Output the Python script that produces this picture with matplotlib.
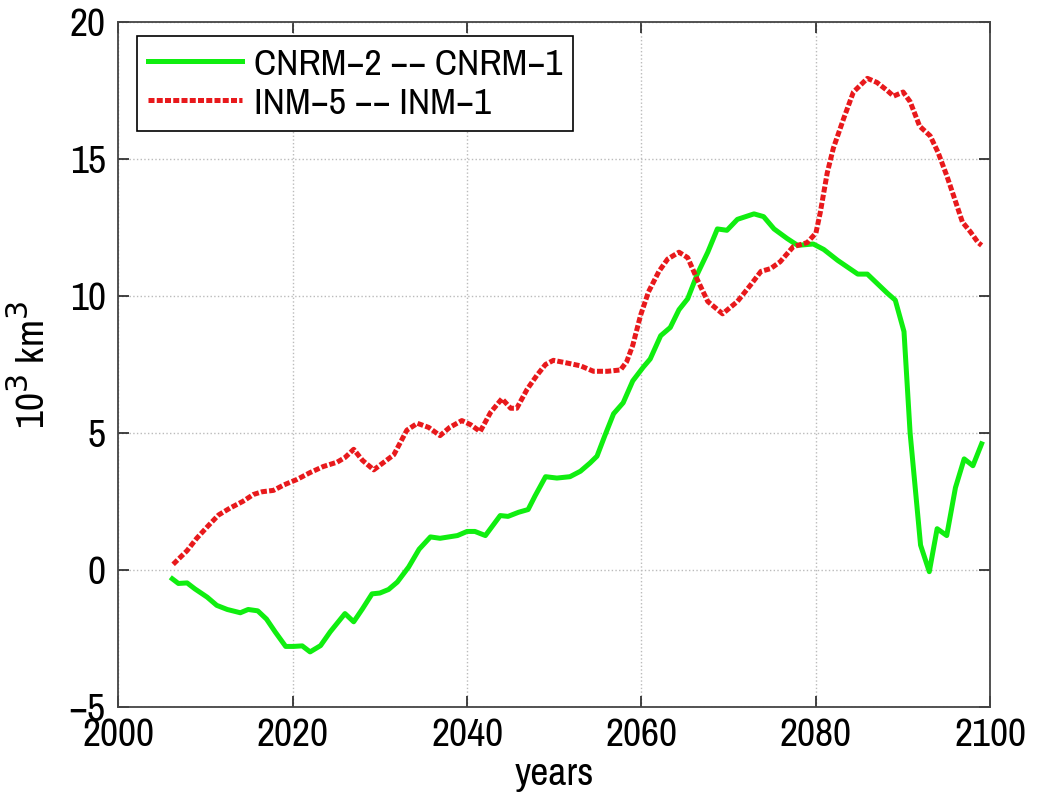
import matplotlib
matplotlib.use("Agg")
import matplotlib.pyplot as plt
from matplotlib import font_manager

# ---- data (10^3 km^3) ----
cnrm_years = [2006.2, 2006.9, 2007.9, 2008.8, 2010.2, 2011.3, 2012.5, 2014.0, 2014.9, 2016.0,
              2017.0, 2018.0, 2019.2, 2020.1, 2021.1, 2022.0, 2023.2, 2024.3, 2026.0, 2027.0,
              2028.0, 2029.1, 2030.0, 2031.0, 2032.0, 2033.3, 2034.5, 2035.8, 2036.9, 2038.9,
              2040.0, 2040.9, 2042.1, 2043.8, 2044.7, 2045.9, 2047.0, 2047.8, 2049.0, 2050.3,
              2051.8, 2053.0, 2054.1, 2054.9, 2055.8, 2056.8, 2057.9, 2059.0, 2060.2, 2061.0,
              2062.2, 2063.3, 2064.3, 2065.3, 2066.4, 2067.6, 2068.7, 2069.8, 2071.0, 2072.9,
              2074.0, 2075.2, 2076.7, 2077.9, 2079.7, 2080.9, 2082.5, 2084.8, 2085.9, 2088.2,
              2089.1, 2090.1, 2090.8, 2092.0, 2093.0, 2093.9, 2095.0, 2096.0, 2097.0, 2098.0,
              2099.0]
cnrm_vals = [-0.33, -0.50, -0.48, -0.70, -1.00, -1.30, -1.45, -1.57, -1.45, -1.50,
             -1.80, -2.27, -2.80, -2.80, -2.78, -3.00, -2.77, -2.27, -1.60, -1.90,
             -1.43, -0.88, -0.85, -0.72, -0.45, 0.10, 0.75, 1.20, 1.15, 1.25,
             1.40, 1.40, 1.25, 1.98, 1.95, 2.10, 2.20, 2.70, 3.40, 3.35,
             3.40, 3.60, 3.90, 4.15, 4.90, 5.70, 6.10, 6.90, 7.40, 7.70,
             8.55, 8.85, 9.50, 9.90, 10.80, 11.60, 12.45, 12.40, 12.80, 13.00,
             12.90, 12.45, 12.10, 11.85, 11.90, 11.70, 11.30, 10.80, 10.80, 10.10,
             9.85, 8.70, 5.00, 0.90, -0.07, 1.50, 1.25, 3.00, 4.05, 3.80,
             4.60]

inm_years = [2006.3, 2007.9, 2009.0, 2010.3, 2011.5, 2012.8, 2014.3, 2015.5, 2016.5, 2017.8,
             2019.0, 2020.5, 2022.0, 2023.5, 2025.1, 2026.0, 2027.0, 2028.0, 2029.3, 2031.6,
             2033.1, 2034.3, 2035.6, 2036.9, 2038.0, 2039.4, 2040.4, 2041.5, 2042.7, 2044.0,
             2045.0, 2045.7, 2046.9, 2048.0, 2049.0, 2049.9, 2051.5, 2053.0, 2054.5, 2056.1,
             2057.6, 2058.3, 2059.0, 2059.9, 2060.8, 2062.0, 2063.0, 2064.3, 2065.3, 2066.4,
             2067.6, 2069.3, 2071.0, 2072.5, 2073.7, 2074.8, 2075.9, 2077.4, 2079.0, 2080.0,
             2080.5, 2081.3, 2082.0, 2083.2, 2084.3, 2085.9, 2087.0, 2088.2, 2088.9, 2090.0,
             2090.8, 2091.9, 2093.1, 2094.0, 2095.0, 2095.8, 2096.8, 2097.7, 2098.6, 2099.0]
inm_vals = [0.20, 0.70, 1.15, 1.60, 2.00, 2.25, 2.50, 2.75, 2.85, 2.90,
            3.10, 3.30, 3.55, 3.77, 3.93, 4.10, 4.40, 4.00, 3.65, 4.20,
            5.10, 5.35, 5.20, 4.90, 5.20, 5.45, 5.30, 5.05, 5.75, 6.25,
            5.90, 5.90, 6.60, 7.10, 7.50, 7.65, 7.55, 7.45, 7.25, 7.25,
            7.30, 7.60, 8.20, 9.30, 10.15, 10.90, 11.35, 11.60, 11.40, 10.60,
            9.80, 9.35, 9.80, 10.40, 10.90, 11.00, 11.25, 11.80, 11.95, 12.30,
            13.05, 14.50, 15.40, 16.50, 17.45, 17.95, 17.80, 17.50, 17.30, 17.45,
            17.10, 16.20, 15.85, 15.25, 14.40, 13.65, 12.70, 12.35, 11.95, 11.85]

labels = ["CNRM\u22122 \u2212\u2212 CNRM\u22121", "INM\u22125 \u2212\u2212 INM\u22121"]
x_ticks = [2000, 2020, 2040, 2060, 2080, 2100]
y_ticks = [-5, 0, 5, 10, 15, 20]

# ---- font: prefer a narrow sans face ----
narrow = None
for f in font_manager.fontManager.ttflist:
    nm = f.name.lower()
    fn = f.fname.lower()
    if ("narrow" in nm or "condensed" in nm or "condensed" in fn or f.stretch in ("condensed", 600)) \
            and "bold" not in fn and "oblique" not in fn and "italic" not in fn:
        if narrow is None or "dejavusanscondensed.ttf" in fn or "narrow-regular" in fn:
            narrow = f.fname
if narrow:
    fp = font_manager.FontProperties(fname=narrow)
else:
    fp = font_manager.FontProperties(family="DejaVu Sans")


def fprop(size):
    p = fp.copy()
    p.set_size(size)
    return p


fig = plt.figure(figsize=(10.37, 7.94), dpi=100)
ax = fig.add_axes([0.114, 0.110, 0.841, 0.862])

ax.plot(cnrm_years, cnrm_vals, color="#10EE10", lw=3.6, solid_joinstyle="round",
        label=labels[0])
ax.plot(inm_years, inm_vals, color="#E8191C", lw=3.6, linestyle=(0, (1.2, 0.45)),
        dash_capstyle="butt", label=labels[1])

ax.set_xlim(2000, 2100)
ax.set_ylim(-5, 20)
ax.set_xticks(x_ticks)
ax.set_yticks(y_ticks)
ax.set_xticklabels([str(v) for v in x_ticks], fontproperties=fprop(31))
ax.set_yticklabels([str(v).replace("-", "\u2212") for v in y_ticks], fontproperties=fprop(31))
ax.tick_params(axis="x", pad=8)
ax.tick_params(axis="y", pad=9)
ax.tick_params(direction="in", top=True, right=True, length=8, width=1.2,
               colors="#222222", labelcolor="black")
ax.grid(True, linestyle=":", color="#BBBBBB", linewidth=1.0)
for s in ax.spines.values():
    s.set_color("#444444")
    s.set_linewidth(1.3)

ax.set_xlabel("years", fontproperties=fprop(31), labelpad=3)
ax.set_ylabel("10$^3$ km$^3$", fontproperties=fprop(31), labelpad=12)

leg = ax.legend(loc="upper left", prop=fprop(29.5), frameon=True, fancybox=False,
                edgecolor="black", framealpha=1, handlelength=2.3, handletextpad=0.3,
                borderpad=0.25, labelspacing=0.12, borderaxespad=0,
                bbox_to_anchor=(0.022, 0.980))
leg.get_frame().set_linewidth(1.2)

fig.savefig("out.png", dpi=100, facecolor="white")
